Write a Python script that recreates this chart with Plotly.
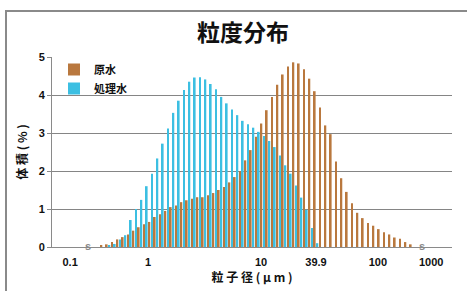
import plotly.graph_objects as go

# bin index (channel) of each bar pair
bin_index = list(range(9, 68))

raw_water = [0.04, 0.07, 0.13, 0.2, 0.26, 0.33, 0.43, 0.52, 0.6, 0.66,
             0.79, 0.86, 0.95, 1.05, 1.09, 1.18, 1.23, 1.27, 1.31, 1.31,
             1.36, 1.42, 1.5, 1.58, 1.7, 1.84, 2.0, 2.28, 2.55, 2.9,
             3.25, 3.6, 3.95, 4.27, 4.54, 4.75, 4.86, 4.83, 4.68, 4.43,
             4.1, 3.67, 3.2, 2.97, 2.25, 1.81, 1.45, 1.15, 0.9, 0.76,
             0.63, 0.56, 0.47, 0.39, 0.33, 0.25, 0.22, 0.13, 0.07]

treated_water = [0, 0.03, 0.08, 0.2, 0.31, 0.71, 1.0, 1.24, 1.6, 1.93,
                 2.33, 2.72, 3.12, 3.53, 3.85, 4.13, 4.35, 4.46, 4.47, 4.41,
                 4.29, 4.15, 3.95, 3.78, 3.62, 3.47, 3.32, 3.23, 3.14, 3.03,
                 2.92, 2.79, 2.63, 2.41, 2.15, 1.93, 1.62, 1.3, 0.98, 0.5,
                 0.1, 0, 0, 0, 0, 0, 0, 0, 0, 0,
                 0, 0, 0, 0, 0, 0, 0, 0, 0]

tick_pos = [2.9, 17.5, 38.7, 49.0, 60.6, 70.6]
tick_text = ["0.1", "1", "10", "39.9", "100", "1000"]
break_pos = [6.3, 68.8]

BROWN = "#B9783E"
CYAN = "#3CBFE2"
FONT = "Liberation Sans, Noto Sans CJK JP, sans-serif"
CJK = "Noto Sans CJK JP, sans-serif"

fig = go.Figure()
fig.add_trace(go.Bar(x=bin_index, y=raw_water, name="原水", marker_color=BROWN,
                     marker_line_width=0))
fig.add_trace(go.Bar(x=bin_index, y=treated_water, name="処理水", marker_color=CYAN,
                     marker_line_width=0))

L, R, T, B = 52, 15, 57, 44
W, H = 467, 291
pw, ph = W - L - R, H - T - B

def px_x(p):
    return (p - L) / pw

def px_y(p):
    return (H - B - p) / ph

fig.update_layout(
    width=W, height=H,
    margin=dict(l=L, r=R, t=T, b=B, autoexpand=False),
    paper_bgcolor="white", plot_bgcolor="white",
    barmode="group", bargap=0.0, bargroupgap=0.3,
    showlegend=True,
    legend=dict(x=px_x(54), y=px_y(55), xanchor="left", yanchor="top",
                bgcolor="rgba(0,0,0,0)",
                font=dict(family=CJK, size=11, color="#111", weight="bold"),
                tracegroupgap=0, itemwidth=30),
    title=dict(text="粒度分布", xref="container", x=243 / W, xanchor="center",
               yref="container", y=1 - 33 / H, yanchor="middle",
               font=dict(family=CJK, size=23, color="#111", weight="bold")),
    xaxis=dict(range=[-0.5, 74.5], tickmode="array", tickvals=tick_pos,
               ticktext=tick_text, showgrid=False, zeroline=False,
               showline=True, linecolor="#8a8a8a", linewidth=1, ticks="",
               ticklabelstandoff=5, automargin=False,
               tickfont=dict(family=FONT, size=11, color="#111", weight="bold"),
               title=dict(text="粒 子 径 ( μ m )", standoff=6,
                          font=dict(family=CJK, size=12, color="#111", weight="bold"))),
    yaxis=dict(range=[0, 5], dtick=1, showgrid=True, gridcolor="#858585",
               gridwidth=1, zeroline=False, showline=True, linecolor="#8a8a8a",
               ticks="outside", ticklen=4, tickcolor="#8a8a8a", automargin=False,
               tickfont=dict(family=FONT, size=11, color="#111", weight="bold"),
               title=dict(text="体 積 ( % )", standoff=8,
                          font=dict(family=CJK, size=12, color="#111", weight="bold"))),
)

# axis break marks on baseline
for bp in break_pos:
    fig.add_annotation(x=bp, y=0, xref="x", yref="y", text="s", showarrow=False,
                       font=dict(family=FONT, size=11, color="#888", weight="bold"),
                       yshift=1)

# outer chart frame
fig.add_shape(type="rect", xref="paper", yref="paper",
              x0=px_x(6), x1=px_x(475), y0=px_y(300), y1=px_y(11),
              line=dict(color="#8a8a8a", width=2), fillcolor="rgba(0,0,0,0)",
              layer="below")

fig.write_html("out.html", config={"displayModeBar": False},
               post_script="document.body.style.margin='0';document.body.style.overflow='hidden';")
